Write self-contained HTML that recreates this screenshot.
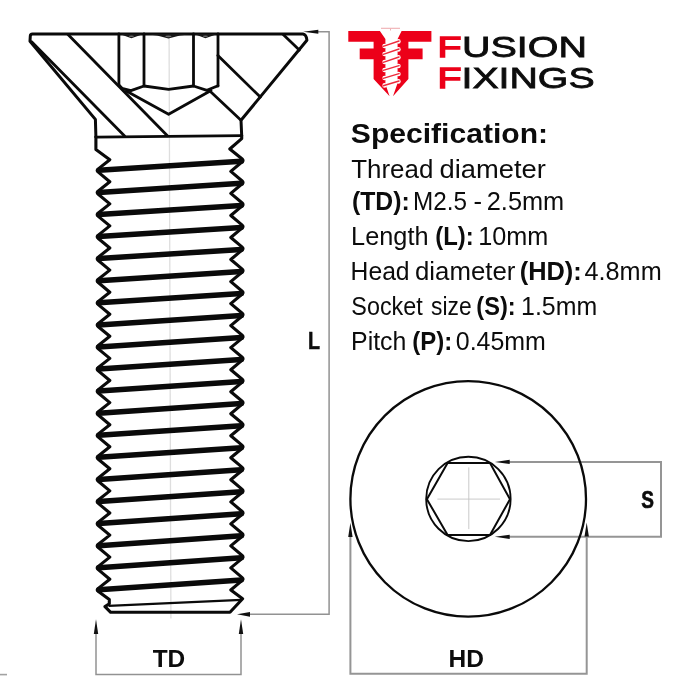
<!DOCTYPE html>
<html><head><meta charset="utf-8"><title>Fusion Fixings - Socket Countersunk Screw M2.5 x 10mm</title>
<style>
html,body{margin:0;padding:0;background:#fff;}
body{width:700px;height:700px;overflow:hidden;font-family:"Liberation Sans",sans-serif;}
svg{display:block;}
text{font-family:"Liberation Sans",sans-serif;}
</style></head><body>
<svg width="700" height="700" viewBox="0 0 700 700" style="will-change:transform">
<rect width="700" height="700" fill="#fff"/>

<!-- centre line -->
<line x1="169.1" y1="38" x2="170.9" y2="618.5" stroke="#dedede" stroke-width="1.3"/>

<!-- stray stub at left edge -->
<line x1="0" y1="674.6" x2="7" y2="674.6" stroke="#a2a2a2" stroke-width="1.6"/>

<!-- dimension lines -->
<g fill="none" stroke="#929292" stroke-width="1.5">
 <path d="M318,31.8 L329.1,31.8 L329.1,614.3 L249,614.3"/>
 <path d="M96,633 L96,674.5 L241,674.5 L241,633"/>
</g>
<g fill="none" stroke="#959595" stroke-width="2">
 <path d="M350.4,536 L350.4,673.7 L586.7,673.7 L586.7,536"/>
 <path d="M509,461.9 L661,461.9 L661,536.8 L509,536.8"/>
</g>
<g fill="#111">
 <path d="M303.2,31.7 L318.3,29.7 L318.3,33.7 Z"/>
 <path d="M237,614.3 L250,611.9 L250,616.7 Z"/>
 <path d="M96,619.3 L93.8,634 L98.2,634 Z"/>
 <path d="M241,619.3 L238.8,634 L243.2,634 Z"/>
 <path d="M350.4,522.7 L348.2,537 L352.6,537 Z"/>
 <path d="M586.7,522.4 L584.5,536.6 L588.9,536.6 Z"/>
 <path d="M494.8,461.9 L509.7,459.8 L509.7,464 Z"/>
 <path d="M494.8,536.8 L509.7,534.7 L509.7,538.9 Z"/>
</g>

<!-- screw head -->
<g fill="none" stroke="#0a0a0a" stroke-width="2.8" stroke-linejoin="round" stroke-linecap="round">
 <path d="M95.9,137 L95.4,119.4 L30,41.2 L30.3,36 Q30.3,34 32.5,34 L303,34 Q306.3,34.4 306.9,40.2 L241,120.3 L241.7,135.7" stroke-width="3"/>
 <path d="M95.9,137.1 L241.7,135.6"/>
 <!-- left diagonals -->
 <path d="M31.6,41.8 L124.6,135.9"/>
 <path d="M68,34.6 L167.4,135.7"/>
 <!-- hex socket verticals -->
 <path d="M118.9,34 L118.9,85 M144,34 L144,86 M193.5,34 L193.5,86 M218,34 L218,86"/>
 <!-- hex socket bottom -->
 <path d="M118.9,85 L122,88.3 L130.9,90.6 L144,86 L168.6,89.4 L193.5,86 L206.9,90.3 L218,85.7"/>
 <!-- cone -->
 <path d="M126.3,91.1 L168.6,114.3 L211,90.5"/>
 <!-- right diagonals -->
 <path d="M283.2,34.6 L299.3,50"/>
 <path d="M217.9,55.4 L260.3,97.1"/>
 <path d="M210.4,91.5 L241,120.3"/>
</g>
<!-- hex top chamfer marks -->
<g fill="#161616">
 <path d="M119.5,34 L131.4,38.2 L143.5,34 Z"/>
 <path d="M144.5,34 L157,35.6 L168.4,38.5 L180,35.6 L193,34 Z"/>
 <path d="M194,34 L205.4,38.2 L217.5,34 Z"/>
</g>
<g fill="#6e6e6e">
 <ellipse cx="131.4" cy="36.2" rx="2.6" ry="0.8"/>
 <ellipse cx="168.4" cy="36.3" rx="3.2" ry="0.9"/>
 <ellipse cx="205.4" cy="36.2" rx="2.6" ry="0.8"/>
</g>

<!-- threaded shank -->
<path d="M95.9,136.8 L95.9,149.4 L109.8,159.7 L98,169.1 Q96.3,170.5 98,171.9 L109.8,181.8 L98,191.2 Q96.3,192.6 98,194 L109.8,203.9 L98,213.3 Q96.3,214.7 98,216.1 L109.8,225.9 L98,235.4 Q96.3,236.7 98,238.2 L109.8,248 L98,257.4 Q96.3,258.8 98,260.2 L109.8,270.1 L98,279.5 Q96.3,280.9 98,282.3 L109.8,292.2 L98,301.6 Q96.3,303 98,304.4 L109.8,314.3 L98,323.7 Q96.3,325.1 98,326.5 L109.8,336.3 L98,345.8 Q96.3,347.1 98,348.6 L109.8,358.4 L98,367.8 Q96.3,369.2 98,370.6 L109.8,380.5 L98,389.9 Q96.3,391.3 98,392.7 L109.8,402.6 L98,412 Q96.3,413.4 98,414.8 L109.8,424.7 L98,434.1 Q96.3,435.5 98,436.9 L109.8,446.7 L98,456.2 Q96.3,457.5 98,459 L109.8,468.8 L98,478.2 Q96.3,479.6 98,481 L109.8,490.9 L98,500.3 Q96.3,501.7 98,503.1 L109.8,513 L98,522.4 Q96.3,523.8 98,525.2 L109.8,535.1 L98,544.5 Q96.3,545.9 98,547.3 L109.8,557.1 L98,566.6 Q96.3,567.9 98,569.4 L109.8,579.2 L98,588.6 Q96.3,590 98.1,591.3 L109.3,599.6 L109.3,603.8 L105,606.6 L110.7,612.3 L230,612.3 L242.6,598.8 L230.8,590 L242.2,580.4 Q243.9,579 242.2,577.6 L230.8,567.9 L242.2,558.4 Q243.9,556.9 242.2,555.5 L230.8,545.9 L242.2,536.3 Q243.9,534.9 242.2,533.5 L230.8,523.9 L242.2,514.3 Q243.9,512.9 242.2,511.5 L230.8,501.9 L242.2,492.3 Q243.9,490.9 242.2,489.4 L230.8,479.8 L242.2,470.2 Q243.9,468.8 242.2,467.4 L230.8,457.8 L242.2,448.2 Q243.9,446.8 242.2,445.4 L230.8,435.8 L242.2,426.2 Q243.9,424.8 242.2,423.3 L230.8,413.7 L242.2,404.1 Q243.9,402.7 242.2,401.3 L230.8,391.7 L242.2,382.1 Q243.9,380.7 242.2,379.3 L230.8,369.7 L242.2,360.1 Q243.9,358.7 242.2,357.3 L230.8,347.6 L242.2,338.1 Q243.9,336.6 242.2,335.2 L230.8,325.6 L242.2,316 Q243.9,314.6 242.2,313.2 L230.8,303.6 L242.2,294 Q243.9,292.6 242.2,291.2 L230.8,281.6 L242.2,272 Q243.9,270.6 242.2,269.1 L230.8,259.5 L242.2,249.9 Q243.9,248.5 242.2,247.1 L230.8,237.5 L242.2,227.9 Q243.9,226.5 242.2,225.1 L230.8,215.5 L242.2,205.9 Q243.9,204.5 242.2,203 L230.8,193.4 L242.2,183.8 Q243.9,182.4 242.2,181 L230.8,171.4 L242.2,161.8 Q243.9,160.4 242.2,159 L229.8,149 L241.7,138.6 L241.7,135.5" fill="none" stroke="#0a0a0a" stroke-width="3.1" stroke-linejoin="round" stroke-linecap="round"/>
<path d="M98.8,170.3 L241.4,161.3 M98.8,192.4 L241.4,183.3 M98.8,214.5 L241.4,205.4 M98.8,236.5 L241.4,227.4 M98.8,258.6 L241.4,249.4 M98.8,280.7 L241.4,271.4 M98.8,302.8 L241.4,293.5 M98.8,324.9 L241.4,315.5 M98.8,346.9 L241.4,337.5 M98.8,369 L241.4,359.6 M98.8,391.1 L241.4,381.6 M98.8,413.2 L241.4,403.6 M98.8,435.3 L241.4,425.7 M98.8,457.3 L241.4,447.7 M98.8,479.4 L241.4,469.7 M98.8,501.5 L241.4,491.8 M98.8,523.6 L241.4,513.8 M98.8,545.7 L241.4,535.8 M98.8,567.7 L241.4,557.8 M98.8,589.8 L241.4,579.9 " fill="none" stroke="#0a0a0a" stroke-width="5.5" stroke-linecap="round"/>
<path d="M108.6,605.9 L241.4,599.8" fill="none" stroke="#0a0a0a" stroke-width="2.2"/>

<!-- head top view -->
<g fill="none" stroke="#0a0a0a">
 <circle cx="468.2" cy="498.9" r="117.8" stroke-width="2.3"/>
 <circle cx="468.4" cy="498.9" r="42.2" stroke-width="1.9"/>
 <path d="M426.9,499.2 L447.6,463 L490,463 L510,499.2 L490,535 L447.6,535 Z" stroke-width="2" stroke-linejoin="miter"/>
</g>
<path d="M437.4,499.1 L500,499.1 M468.8,467.4 L468.8,529.1" stroke="#c4c4c4" stroke-width="0.9" fill="none"/>

<!-- logo -->
<g fill="#ec0019">
 <path d="M348.3,31.1 L379.9,31.1 L385.4,39.1 L385.4,84 L389.6,96.3 L373.6,79.1 L373.6,59.3 L359.7,59.3 L359.7,48.6 L373.6,48.6 L373.6,41.7 L348.3,41.7 Z"/>
 <path d="M431.4,31.1 L401.6,31.1 L397.6,39.1 L397.6,83 L393,96.3 L408.4,79.1 L408.4,59.3 L422.6,59.3 L422.6,48.6 L408.4,48.6 L408.4,41.7 L431.4,41.7 Z"/>
</g>
<g fill="#fff"><circle cx="384.6" cy="46" r="2.3"/><circle cx="384.6" cy="54" r="2.3"/><circle cx="384.6" cy="62" r="2.3"/><circle cx="384.6" cy="70" r="2.3"/><circle cx="384.6" cy="78" r="2.3"/><circle cx="384.6" cy="85.4" r="2.3"/><circle cx="398.4" cy="41.4" r="2.3"/><circle cx="398.4" cy="49.4" r="2.3"/><circle cx="398.4" cy="57.4" r="2.3"/><circle cx="398.4" cy="66" r="2.3"/><circle cx="398.4" cy="74" r="2.3"/><circle cx="398.4" cy="81.4" r="2.3"/></g>
<path d="M383.2,46.4 L399,41.0 M383.2,54.4 L399,49.0 M383.2,62.4 L399,57.0 M383.2,70.4 L399,65.6 M383.2,78.4 L399,73.6 M383.2,85.80000000000001 L399,81.0" stroke="#ee2a3c" stroke-width="1.5" fill="none" stroke-linecap="round"/>
<path d="M381,28.3 L400,28.3" stroke="#efaeb2" stroke-width="1.1" fill="none"/>
<path d="M390.5,28.5 L390.5,30.5" stroke="#efaeb2" stroke-width="1" fill="none"/>

<!-- text -->
<g>
 <text transform="translate(350.84,142.5) scale(1.0592,1)" font-size="28.4" font-weight="bold" fill="#0c0c0c">Specification:</text>
 <text transform="translate(351.24,178) scale(1.0127,1)" font-size="25.6" fill="#0c0c0c">Thread</text>
 <text transform="translate(439.43,178) scale(1.0687,1)" font-size="25.6" fill="#0c0c0c">diameter</text>
 <text transform="translate(351.89,209.9) scale(0.9679,1)" font-size="25.6" font-weight="bold" fill="#0c0c0c">(TD):</text>
 <text transform="translate(413.1,209.9) scale(0.9488,1)" font-size="25.6" fill="#0c0c0c">M2.5</text>
 <text transform="translate(473.5,209.9) scale(1,1)" font-size="25.6" fill="#0c0c0c">-</text>
 <text transform="translate(486.76,209.9) scale(0.99,1)" font-size="25.6" fill="#0c0c0c">2.5mm</text>
 <text transform="translate(351.12,245) scale(0.9886,1)" font-size="25.6" fill="#0c0c0c">Length</text>
 <text transform="translate(435.33,245) scale(0.9333,1)" font-size="25.6" font-weight="bold" fill="#0c0c0c">(L):</text>
 <text transform="translate(478.13,245) scale(0.9867,1)" font-size="25.6" fill="#0c0c0c">10mm</text>
 <text transform="translate(350.57,279.9) scale(0.9652,1)" font-size="25.6" fill="#0c0c0c">Head</text>
 <text transform="translate(414.99,279.9) scale(1.0076,1)" font-size="25.6" fill="#0c0c0c">diameter</text>
 <text transform="translate(519.76,279.9) scale(0.9915,1)" font-size="25.6" font-weight="bold" fill="#0c0c0c">(HD):</text>
 <text transform="translate(584.51,279.9) scale(0.9868,1)" font-size="25.6" fill="#0c0c0c">4.8mm</text>
 <text transform="translate(351.36,314.9) scale(0.9121,1)" font-size="25.6" fill="#0c0c0c">Socket</text>
 <text transform="translate(431.08,314.9) scale(0.8908,1)" font-size="25.6" fill="#0c0c0c">size</text>
 <text transform="translate(476.35,314.9) scale(0.9231,1)" font-size="25.6" font-weight="bold" fill="#0c0c0c">(S):</text>
 <text transform="translate(521.05,314.9) scale(0.9732,1)" font-size="25.6" fill="#0c0c0c">1.5mm</text>
 <text transform="translate(351.06,349.9) scale(0.9718,1)" font-size="25.6" fill="#0c0c0c">Pitch</text>
 <text transform="translate(412.33,349.9) scale(0.9359,1)" font-size="25.6" font-weight="bold" fill="#0c0c0c">(P):</text>
 <text transform="translate(455.78,349.9) scale(0.9749,1)" font-size="25.6" fill="#0c0c0c">0.45mm</text>
 <text transform="translate(307.94,348.9) scale(0.808,1)" font-size="24.4" font-weight="bold" fill="#0c0c0c" stroke="#0c0c0c" stroke-width="0.5">L</text>
 <text transform="translate(152.65,666.7) scale(1.0146,1)" font-size="24.1" font-weight="bold" fill="#0c0c0c">TD</text>
 <text transform="translate(448.57,666.7) scale(1.0171,1)" font-size="24.1" font-weight="bold" fill="#0c0c0c">HD</text>
 <text transform="translate(641.29,507.7) scale(0.8143,1)" font-size="23.4" font-weight="bold" fill="#0c0c0c" stroke="#0c0c0c" stroke-width="0.6">S</text>
 <text transform="translate(437.55,57.1) scale(1.3017,1)" font-size="30.2" fill="#ec0019" stroke="#ec0019" stroke-width="1.4">F</text>
 <text transform="translate(462.06,57.1) scale(1.3066,1)" font-size="30.2" fill="#0c0c0c" stroke="#0c0c0c" stroke-width="0.8">USION</text>
 <text transform="translate(437.55,87.5) scale(1.3017,1)" font-size="30.2" fill="#ec0019" stroke="#ec0019" stroke-width="1.4">F</text>
 <text transform="translate(461.52,87.5) scale(1.3008,1)" font-size="30.2" fill="#0c0c0c" stroke="#0c0c0c" stroke-width="0.8">IXINGS</text>
</g>
</svg>
</body></html>
